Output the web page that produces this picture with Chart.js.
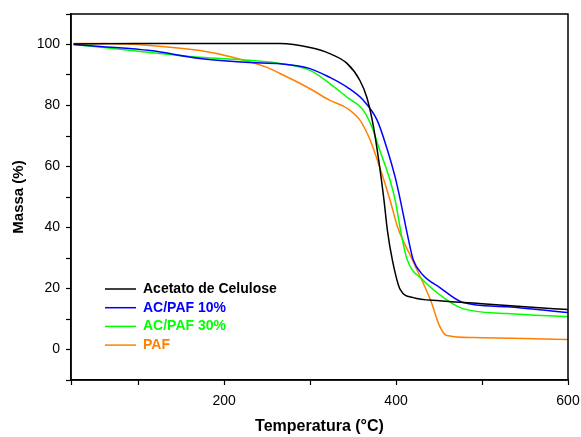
<!DOCTYPE html>
<html>
<head>
<meta charset="utf-8">
<script src="https://cdn.jsdelivr.net/npm/chart.js@4"></script>
<style>
  body { margin: 0; background: #fff; }
  #wrap { width: 581px; height: 437px; }
</style>
</head>
<body>
<div id="wrap"><canvas id="tga"></canvas></div>
<script>
// temperatures (°C) and remaining mass (%)
const caTemps  = [25, 100, 200, 265, 300, 323, 343, 358, 366, 373, 381, 386, 390, 396, 405, 420, 451, 500, 550, 600];
const caMass   = [100.2, 100.3, 100.3, 100.3, 99.0, 97.0, 93.8, 88.2, 82.7, 74.2, 59.8, 49, 39, 29, 19.6, 17, 16, 15, 14, 13.1];

const ac10Temps = [25, 60, 114, 172, 230, 265, 300, 323, 343, 362, 378, 390, 399, 405, 413, 420, 431, 451, 478, 529, 600];
const ac10Mass  = [100, 99.3, 98, 95.4, 94.1, 93.7, 92.1, 89.2, 86, 81.7, 75.2, 65.4, 56.5, 49, 38, 29.4, 24.5, 20.3, 15.4, 14, 12.1];

const ac30Temps = [25, 60, 114, 172, 230, 265, 300, 323, 343, 362, 372, 381, 393, 399, 406, 413, 431, 459, 478, 529, 600];
const ac30Mass  = [100, 99, 97.4, 95.8, 94.8, 93.8, 91.5, 87.2, 82.7, 78.4, 72.9, 65.4, 55.6, 49, 38, 29.4, 22.9, 16.3, 13.4, 11.8, 10.8];

const pafTemps = [25, 60, 114, 172, 210, 250, 265, 288, 303, 323, 343, 358, 370, 381, 393, 402, 419, 440, 451, 459, 490, 550, 600];
const pafMass  = [100.3, 100.3, 99.7, 98, 95.8, 92.5, 90.5, 87.3, 85, 81.7, 79.1, 75.2, 68.6, 59.8, 49, 40, 29.4, 16.3, 7.5, 4.6, 3.9, 3.6, 3.3];

const seriesNames  = ['Acetato de Celulose', 'AC/PAF 10%', 'AC/PAF 30%', 'PAF'];
const seriesColors = ['#000000', '#0000ff', '#00ff00', '#ff8000'];

const xTickLabels = [200, 400, 600];
const yTickLabels = [0, 20, 40, 60, 80, 100];

function toPoints(ts, ms) {
    return ts.map((t, i) => ({ x: t, y: ms[i] }));
}

const allSeries = [
    toPoints(caTemps, caMass),
    toPoints(ac10Temps, ac10Mass),
    toPoints(ac30Temps, ac30Mass),
    toPoints(pafTemps, pafMass),
];

const fontFamily = '"Liberation Sans", Arial, sans-serif';

// box around the plot + legend drawn inside the chart area
const framePlugin = {
    id: 'frame',
    afterDraw(chart) {
        const { ctx, chartArea: a } = chart;
        ctx.save();
        ctx.strokeStyle = '#000';
        ctx.lineWidth = 1.5;
        ctx.strokeRect(a.left, a.top, a.right - a.left, a.bottom - a.top);

        ctx.font = 'bold 14px ' + fontFamily;
        ctx.textBaseline = 'middle';
        chart.data.datasets.forEach((ds, i) => {
            const y = a.top + 275 + i * 18.7;
            ctx.strokeStyle = ds.borderColor;
            ctx.lineWidth = 1.5;
            ctx.beginPath();
            ctx.moveTo(a.left + 34, y);
            ctx.lineTo(a.left + 65, y);
            ctx.stroke();
            ctx.fillStyle = ds.borderColor;
            ctx.fillText(ds.label, a.left + 72, y);
        });
        ctx.restore();
    }
};

const ctx = document.getElementById('tga').getContext('2d');

new Chart(ctx, {
    type: 'line',
    data: {
        datasets: allSeries.map((pts, i) => ({
            label: seriesNames[i],
            data: pts,
            borderColor: seriesColors[i],
            backgroundColor: seriesColors[i],
            borderWidth: 1.5,
            pointRadius: 0,
            cubicInterpolationMode: 'monotone',
        }))
    },
    options: {
        responsive: true,
        maintainAspectRatio: false,
        animation: false,
        layout: { padding: { top: 14, right: 13, left: 0, bottom: 0 } },
        plugins: {
            legend: { display: false },
            tooltip: { enabled: false },
        },
        scales: {
            x: {
                type: 'linear',
                min: 22,
                max: 600,
                afterFit(scale) {
                    scale.height = 57;
                    scale.paddingLeft = 0;
                    scale.paddingRight = 0;
                },
                border: { color: '#000', width: 1.5 },
                grid: { drawOnChartArea: false, tickLength: 5, color: '#000', tickWidth: 1.2 },
                ticks: {
                    stepSize: 100,
                    color: '#000',
                    padding: 8,
                    maxRotation: 0,
                    font: { family: fontFamily, size: 14 },
                    callback: v => xTickLabels.includes(v) ? String(v) : '',
                },
                title: {
                    display: true,
                    text: 'Temperatura (°C)',
                    color: '#000',
                    font: { family: fontFamily, size: 16, weight: 'bold' },
                    padding: { top: 0, bottom: 1 },
                },
            },
            y: {
                min: -10,
                max: 110,
                afterFit(scale) {
                    scale.width = 71;
                    scale.paddingTop = 0;
                    scale.paddingBottom = 0;
                },
                border: { color: '#000', width: 1.5 },
                grid: { drawOnChartArea: false, tickLength: 5, color: '#000', tickWidth: 1.2 },
                ticks: {
                    stepSize: 10,
                    color: '#000',
                    padding: 6,
                    font: { family: fontFamily, size: 14 },
                    callback: v => yTickLabels.includes(v) ? String(v) : '',
                },
                title: {
                    display: true,
                    text: 'Massa (%)',
                    color: '#000',
                    font: { family: fontFamily, size: 15, weight: 'bold' },
                    padding: { top: 10, bottom: 0 },
                },
            },
        },
    },
    plugins: [framePlugin],
});
</script>
</body>
</html>
